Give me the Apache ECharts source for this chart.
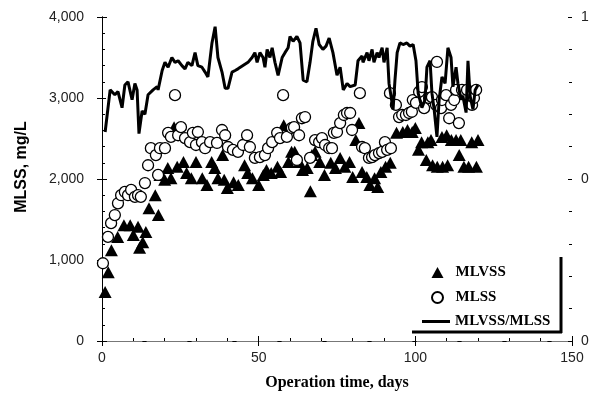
<!DOCTYPE html>
<html>
<head>
<meta charset="utf-8">
<script src="https://cdn.jsdelivr.net/npm/echarts@6/dist/echarts.min.js"></script>
<style>
  html, body { margin: 0; padding: 0; background: #fff; }
  #chart { width: 594px; height: 396px; }
</style>
</head>
<body>
<div id="chart"></div>
<script>
// [day, mg/L]
const mlvss = [
  [1, 605], [2, 850], [3, 1120], [5, 1285], [7, 1430], [9, 1430], [10, 1310], [11.5, 1410],
  [12, 1150], [13, 1220], [14, 1345], [15, 1640], [17, 1800], [18, 1555], [18.5, 2050],
  [20, 1990], [21, 2135], [22, 2010], [23, 2640], [24, 2150], [26, 2210], [27, 2075],
  [28.5, 2010], [30, 2210], [32, 2010], [33.5, 1925], [35, 2210], [36, 2135], [37, 2010],
  [38.5, 2295], [39, 1990], [40, 1890], [42, 1960], [43.5, 1925], [45.5, 2170], [46.5, 2075],
  [48, 2010], [50, 1925], [51.5, 2050], [52.5, 2110], [54, 2075], [56, 2150], [57, 2085],
  [58, 2665], [59.5, 2210], [60.5, 2335], [61.5, 2335], [63, 2210], [64, 2110], [65.5, 2135],
  [66.5, 1850], [67, 2295], [68, 2335], [69.5, 2210], [71, 2050], [73, 2200], [74.5, 2135],
  [76, 2260], [77.5, 2150], [79, 2210], [80, 2025], [81, 2480], [82, 2690], [83, 2085],
  [84.5, 2025], [85.5, 1925], [87, 2010], [88, 1900], [89, 2085], [90.5, 2150], [92, 2200],
  [94, 2570], [96, 2580], [97.5, 2605], [99, 2580], [100, 2630], [101, 2360], [102, 2455],
  [103.5, 2235], [104, 2455], [105, 2480], [105.5, 2170], [107, 2150], [108.5, 2520],
  [108.7, 2150], [110, 2540], [110.3, 2170], [111.5, 2480], [113, 2480], [114, 2295],
  [114.5, 2480], [115.5, 2150], [117, 2150], [118, 2455], [119.5, 2150], [120, 2480]
];

const mlss = [
  [0.3, 960], [1.9, 1285], [2.9, 1455], [4.1, 1555], [5.1, 1700], [6.1, 1800], [7.3, 1840],
  [8.3, 1800], [9.3, 1865], [10.5, 1780], [11.5, 1800], [12.4, 1780], [13.7, 1950],
  [14.7, 2170], [15.6, 2380], [17.2, 2295], [17.9, 2050], [18.5, 2380], [20.1, 2380],
  [21.1, 2570], [22, 2520], [23.3, 3035], [24.3, 2540], [25.2, 2640], [26.5, 2505],
  [28.1, 2455], [29, 2570], [30, 2420], [30.6, 2580], [31.9, 2455], [32.9, 2380],
  [34.5, 2455], [36.7, 2445], [38.3, 2605], [39.3, 2540], [40.2, 2395], [41.8, 2360],
  [43.4, 2335], [45, 2420], [46.3, 2540], [47.2, 2395], [48.8, 2260], [50.4, 2270],
  [52, 2295], [53, 2380], [54.3, 2455], [55.9, 2570], [56.8, 2505], [57.8, 3035],
  [59, 2520], [60.6, 2630], [61.3, 2640], [62.2, 2235], [62.9, 2540], [63.8, 2750],
  [64.8, 2765], [66.4, 2260], [68, 2480], [69.3, 2455], [70.2, 2505], [71.2, 2420],
  [72.5, 2380], [73.4, 2380], [74, 2570], [75, 2580], [76, 2690], [77.2, 2790],
  [78.2, 2815], [79.2, 2815], [79.8, 2605], [82.3, 3060], [83, 2395], [83.9, 2380],
  [85.2, 2260], [86.2, 2270], [87.1, 2295], [88.4, 2320], [89.4, 2335], [90.3, 2455],
  [91, 2360], [91.9, 3060], [92.2, 2380], [93.8, 2915], [94.8, 2765], [95.8, 2790],
  [97, 2790], [98, 2815], [98.9, 2830], [99.2, 2975], [100.2, 2940], [101.2, 3075],
  [102.1, 3135], [102.8, 2875], [104.4, 3000], [105.3, 3010], [106.6, 2915], [106.9, 3445],
  [108.2, 2875], [108.5, 2975], [109.8, 3035], [110.8, 2750], [111.4, 2915], [112.4, 2975],
  [113, 3100], [113.9, 2690], [114.9, 3100], [116.5, 3100], [118.1, 2915], [118.7, 3000],
  [119.4, 3100]
];

// [day, MLVSS/MLSS]
const ratio = [
  [1, 0.645], [2.6, 0.775], [4.1, 0.76], [5.1, 0.77], [6.4, 0.72], [7.3, 0.79], [8.3, 0.8],
  [9.6, 0.745], [10.5, 0.795], [11.2, 0.775], [11.8, 0.64], [12.8, 0.71], [13.7, 0.7],
  [14.7, 0.76], [16.3, 0.775], [17.6, 0.785], [17.9, 0.775], [19.2, 0.835], [20.1, 0.86],
  [21.1, 0.845], [22.3, 0.875], [23.3, 0.86], [24.3, 0.865], [25.5, 0.85], [26.5, 0.84],
  [27.4, 0.86], [28.7, 0.85], [29.7, 0.89], [30.6, 0.85], [31.9, 0.845], [32.9, 0.83],
  [33.8, 0.815], [35.1, 0.92], [36.1, 0.97], [37, 0.875], [38.3, 0.83], [39.3, 0.78],
  [40.2, 0.78], [41.5, 0.83], [42.5, 0.835], [43.4, 0.84], [45, 0.85], [46.6, 0.86],
  [47.9, 0.875], [48.8, 0.89], [49.5, 0.86], [50.4, 0.89], [51.4, 0.875], [52, 0.845],
  [52.7, 0.9], [53.6, 0.875], [54.3, 0.905], [55.2, 0.86], [56.2, 0.82], [57.5, 0.875],
  [58.4, 0.89], [59.4, 0.905], [60, 0.94], [61, 0.925], [62.2, 0.94], [63.2, 0.92],
  [64.2, 0.805], [65.4, 0.8], [66.4, 0.86], [67.3, 0.925], [68.3, 0.965], [69.3, 0.915],
  [70.5, 0.9], [71.5, 0.91], [72.5, 0.935], [73.7, 0.89], [75, 0.82], [76, 0.845],
  [77, 0.775], [78.2, 0.795], [79.2, 0.785], [80.8, 0.79], [81.7, 0.865], [83, 0.88],
  [83.3, 0.86], [84.6, 0.89], [85.2, 0.865], [86.2, 0.9], [86.8, 0.86], [87.8, 0.89],
  [88.4, 0.875], [89.4, 0.905], [90, 0.86], [91, 0.905], [91.6, 0.795], [92.9, 0.715],
  [93.5, 0.805], [94.2, 0.89], [95.1, 0.92], [96.1, 0.915], [97.3, 0.92], [98.3, 0.91],
  [99.3, 0.915], [100.2, 0.865], [100.9, 0.765], [102.1, 0.72], [103.1, 0.745],
  [103.7, 0.845], [104.7, 0.865], [105.3, 0.765], [106, 0.715], [106.9, 0.63],
  [107.6, 0.745], [108.5, 0.815], [109.5, 0.795], [110.4, 0.905], [111.4, 0.875],
  [112, 0.785], [113, 0.845], [113.6, 0.795], [114.6, 0.745], [115.2, 0.755],
  [116.2, 0.705], [116.8, 0.865], [117.5, 0.755], [118.4, 0.715], [119.1, 0.775],
  [120, 0.79]
];

const xTickLabels = ['0', '50', '100', '150'];
const yTickLabels = ['0', '1,000', '2,000', '3,000', '4,000'];
const ratioTickLabels = ['0', '0', '1'];

const chart = echarts.init(document.getElementById('chart'));

const tickFont = { color: '#222', fontSize: 14, fontFamily: 'Liberation Sans' };
const black = { color: '#000', width: 1 };
const legendText = {
  color: '#000', fontSize: 15, fontWeight: 'bold',
  fontFamily: 'Liberation Serif', lineHeight: 14
};

// axes with inside ticks are drawn twice so the major ticks cross the line
const option = {
  backgroundColor: '#fff',
  animation: false,
  grid: { left: 102, right: 22, top: 17, bottom: 55 },
  legend: [
    {
      orient: 'vertical',
      left: 426,
      top: 260,
      itemWidth: 12,
      itemHeight: 11,
      itemGap: 10,
      textStyle: { ...legendText, padding: [0, 0, 0, 7] },
      data: [{ name: 'MLVSS', icon: 'triangle' }, { name: 'MLSS', icon: 'circle' }]
    },
    {
      orient: 'vertical',
      left: 417,
      top: 309,
      itemWidth: 28,
      itemHeight: 3,
      textStyle: legendText,
      data: [{ name: 'MLVSS/MLSS', icon: 'rect' }]
    }
  ],
  xAxis: [
    {
      type: 'value', position: 'bottom', min: 0, max: 150, interval: 50,
      splitLine: { show: false },
      axisLine: { lineStyle: black },
      axisTick: { length: 5, lineStyle: black },
      axisLabel: { ...tickFont, margin: 10, formatter: v => xTickLabels[Math.round(v / 50)] },
      name: 'Operation time, days',
      nameLocation: 'middle',
      nameGap: 34,
      nameTextStyle: { color: '#000', fontSize: 16, fontWeight: 'bold', fontFamily: 'Liberation Serif' }
    },
    {
      type: 'value', position: 'bottom', min: 0, max: 150, interval: 50,
      splitLine: { show: false }, axisLine: { show: false }, axisLabel: { show: false },
      axisTick: { inside: true, length: 5, lineStyle: black },
      minorTick: { show: true, splitNumber: 5, length: 3, lineStyle: black }
    },
    {
      type: 'value', position: 'top', min: 0, max: 150,
      splitLine: { show: false }, axisTick: { show: false }, axisLabel: { show: false },
      axisLine: { lineStyle: { color: '#777', width: 1, type: [40, 5] } }
    }
  ],
  yAxis: [
    {
      type: 'value', position: 'left', min: 0, max: 4000, interval: 1000,
      splitLine: { show: false },
      axisLine: { lineStyle: black },
      axisTick: { length: 5, lineStyle: black },
      axisLabel: { ...tickFont, margin: 18, formatter: v => yTickLabels[Math.round(v / 1000)] },
      name: 'MLSS, mg/L',
      nameLocation: 'middle',
      nameGap: 72,
      nameTextStyle: {
        color: '#000', fontSize: 16, fontWeight: 'bold', fontFamily: 'Liberation Sans',
        padding: [0, 0, 0, 24]
      }
    },
    {
      type: 'value', position: 'right', min: 0, max: 1, interval: 0.5,
      splitLine: { show: false },
      axisLine: { lineStyle: black },
      axisTick: { length: 5, lineStyle: black },
      axisLabel: { ...tickFont, margin: 9, formatter: v => ratioTickLabels[Math.round(v / 0.5)] }
    },
    {
      type: 'value', position: 'left', min: 0, max: 4000, interval: 1000,
      splitLine: { show: false }, axisLine: { show: false }, axisLabel: { show: false },
      axisTick: { inside: true, length: 4, lineStyle: black },
      minorTick: { show: true, splitNumber: 5, length: 3, lineStyle: black }
    },
    {
      type: 'value', position: 'right', min: 0, max: 1, interval: 0.5,
      splitLine: { show: false }, axisLine: { show: false }, axisLabel: { show: false },
      axisTick: { inside: true, length: 4, lineStyle: black },
      minorTick: { show: true, splitNumber: 5, length: 3, lineStyle: black }
    }
  ],
  series: [
    {
      name: 'MLVSS',
      type: 'scatter',
      symbol: 'triangle',
      symbolSize: [13, 12],
      itemStyle: { color: '#000', opacity: 1 },
      data: mlvss
    },
    {
      name: 'MLSS',
      type: 'scatter',
      symbol: 'circle',
      symbolSize: 11,
      itemStyle: { color: '#fff', borderColor: '#000', borderWidth: 1.3, opacity: 1 },
      data: mlss
    },
    {
      name: 'MLVSS/MLSS',
      type: 'line',
      yAxisIndex: 1,
      showSymbol: false,
      symbol: 'none',
      lineStyle: { color: '#000', width: 3 },
      itemStyle: { color: '#000' },
      data: ratio
    }
  ],
  graphic: [
    { type: 'line', shape: { x1: 412, y1: 332, x2: 562, y2: 332 }, style: { stroke: '#000', lineWidth: 3 } },
    { type: 'line', shape: { x1: 561, y1: 257, x2: 561, y2: 333 }, style: { stroke: '#000', lineWidth: 3 } }
  ]
};

chart.setOption(option);
</script>
</body>
</html>
